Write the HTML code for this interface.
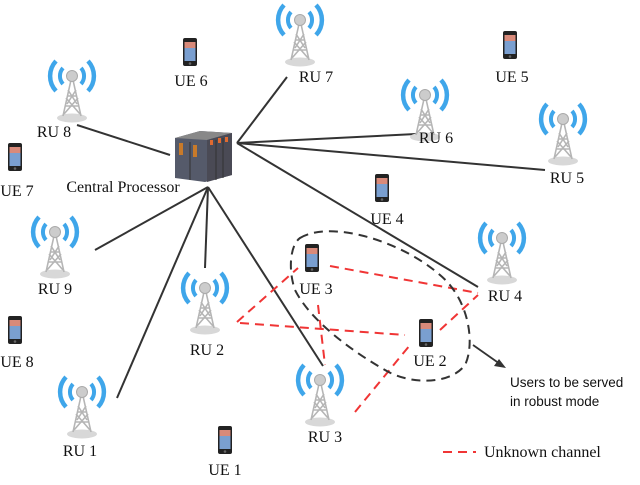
<!DOCTYPE html>
<html><head><meta charset="utf-8"><style>
html,body{margin:0;padding:0;background:#fff}
svg text{font-family:"Liberation Serif",serif;font-size:16px;fill:#111}
</style></head><body>
<svg width="640" height="480" viewBox="0 0 640 480" xmlns="http://www.w3.org/2000/svg">
<defs>
<g id="tw">
<ellipse cx="0" cy="42" rx="15" ry="4.5" fill="#d8d8d8"/>
<path d="M-16,-15 A22,22 0 0 0 -16,15 M16,-15 A22,22 0 0 1 16,15" stroke="#3fa6ea" stroke-width="4.5" fill="none"/>
<path d="M-9,-8 A12,12 0 0 0 -9,8 M9,-8 A12,12 0 0 1 9,8" stroke="#3fa6ea" stroke-width="4" fill="none"/>
<path d="M-1,4 L-9,40 M1,4 L9,40 M-7,30 L7,30 M-5,20 L5,20 M-8,38 L6,22 M8,38 L-6,22 M-5,28 L4,14 M5,28 L-4,14" stroke="#b5b5b5" stroke-width="1.6" fill="none"/>
<circle cx="0" cy="0" r="5.5" fill="#ccc" stroke="#aaa"/>
</g>
<g id="ph">
<rect x="-7" y="-14" width="14" height="28" rx="2" fill="#222"/>
<rect x="-5.5" y="-10" width="11" height="19" fill="#7a9fd0"/>
<rect x="-5.5" y="-10" width="11" height="6" fill="#d98a7a"/>
<circle cx="0" cy="11.5" r="1.3" fill="#666"/>
</g>
</defs>
<g stroke="#333" stroke-width="2" fill="none">
<line x1="237" y1="143" x2="287" y2="77"/>
<line x1="237" y1="143" x2="416" y2="134"/>
<line x1="237" y1="143" x2="545" y2="170"/>
<line x1="237" y1="143" x2="478" y2="287"/>
<line x1="170" y1="155" x2="77" y2="125"/>
<line x1="208" y1="187" x2="95" y2="250"/>
<line x1="208" y1="187" x2="117" y2="398"/>
<line x1="208" y1="187" x2="205" y2="268"/>
<line x1="208" y1="187" x2="323" y2="366"/>
</g>
<g stroke="#f03535" stroke-width="2" stroke-dasharray="9,6" fill="none">
<line x1="237" y1="322" x2="298" y2="268"/>
<line x1="240" y1="323" x2="405" y2="335"/>
<line x1="330" y1="266" x2="478" y2="293"/>
<line x1="318" y1="305" x2="325" y2="365"/>
<line x1="355" y1="412" x2="410" y2="345"/>
<line x1="440" y1="330" x2="478" y2="295"/>
</g>
<path d="M300,238 C330,220 400,240 440,275 C470,300 475,345 465,365 C450,385 410,385 385,370 C350,350 310,320 295,290 C288,270 290,245 300,238 Z" stroke="#333" stroke-width="2" stroke-dasharray="9,6" fill="none"/>
<line x1="473" y1="345" x2="500" y2="364" stroke="#333" stroke-width="1.8"/>
<path d="M506,368 L494,366 L499,359 Z" fill="#333"/>
<g>
<use href="#tw" x="72" y="76"/>
<use href="#tw" x="300" y="20"/>
<use href="#tw" x="425" y="95"/>
<use href="#tw" x="563" y="119"/>
<use href="#tw" x="502" y="238"/>
<use href="#tw" x="55" y="232"/>
<use href="#tw" x="205" y="288"/>
<use href="#tw" x="320" y="380"/>
<use href="#tw" x="82" y="392"/>
</g>
<g>
<use href="#ph" x="190" y="52"/>
<use href="#ph" x="510" y="45"/>
<use href="#ph" x="15" y="157"/>
<use href="#ph" x="382" y="188"/>
<use href="#ph" x="312" y="258"/>
<use href="#ph" x="426" y="333"/>
<use href="#ph" x="15" y="330"/>
<use href="#ph" x="225" y="440"/>
</g>
<g>
<path d="M175,138 L200,131 L232,133 L232,175 L205,182 L175,178 Z" fill="#555a6a"/>
<path d="M175,138 L200,131 L232,133 L207,140 Z" fill="#888"/>
<path d="M207,140 L232,133 L232,175 L207,182 Z" fill="#4a4a55"/>
<rect x="179" y="143" width="4" height="12" fill="#c87a2a"/>
<rect x="193" y="145" width="4" height="12" fill="#c87a2a"/>
<rect x="210" y="140" width="3" height="5" fill="#e06a30"/>
<rect x="218" y="138" width="3" height="5" fill="#e06a30"/>
<rect x="225" y="137" width="3" height="5" fill="#e06a30"/>
<line x1="190" y1="142" x2="190" y2="180" stroke="#333"/>
<line x1="216" y1="140" x2="216" y2="180" stroke="#333"/>
<line x1="223" y1="138" x2="223" y2="178" stroke="#333"/>
</g>
<g text-anchor="middle">
<text x="54" y="137">RU 8</text>
<text x="316" y="82">RU 7</text>
<text x="436" y="143">RU 6</text>
<text x="567" y="183">RU 5</text>
<text x="505" y="301">RU 4</text>
<text x="55" y="294">RU 9</text>
<text x="207" y="355">RU 2</text>
<text x="325" y="442">RU 3</text>
<text x="80" y="456">RU 1</text>
<text x="191" y="86">UE 6</text>
<text x="512" y="82">UE 5</text>
<text x="17" y="196">UE 7</text>
<text x="387" y="224">UE 4</text>
<text x="316" y="294">UE 3</text>
<text x="430" y="366">UE 2</text>
<text x="17" y="367">UE 8</text>
<text x="225" y="475">UE 1</text>
<text x="123" y="192">Central Processor</text>
</g>
<text x="510" y="387" style="font-family:'Liberation Sans',sans-serif;font-size:13.5px">Users to be served</text>
<text x="510" y="406" style="font-family:'Liberation Sans',sans-serif;font-size:13.5px">in robust mode</text>
<line x1="443" y1="452" x2="476" y2="452" stroke="#f03535" stroke-width="2" stroke-dasharray="9,6"/>
<text x="484" y="457">Unknown channel</text>
</svg>
</body></html>
